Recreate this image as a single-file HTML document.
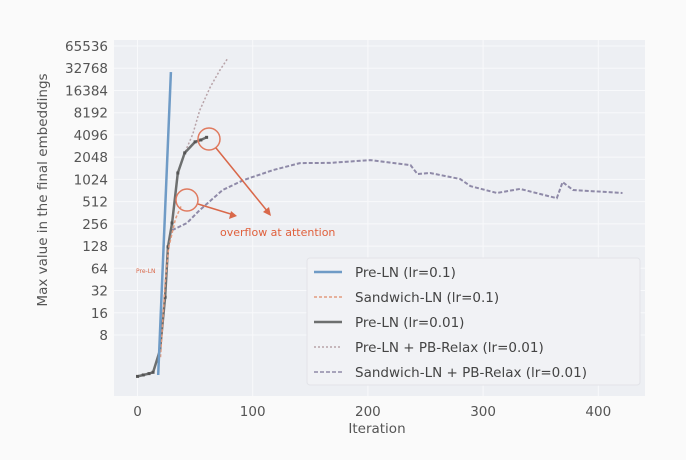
<!DOCTYPE html>
<html><head><meta charset="utf-8"><style>
body{margin:0;background:#fafafa;}
svg{display:block;font-family:"DejaVu Sans","Liberation Sans",sans-serif;}
</style></head><body>
<svg id="chart" width="686" height="460">
<rect x="0" y="0" width="686" height="460" fill="#fafafa"/>
<rect x="114" y="40" width="531" height="356" fill="#edeff3"/>
<g id="grid"></g><g id="ticks"></g><g id="series"></g>
<g>
<circle cx="187" cy="200" r="11" fill="none" stroke="#e07a5f" stroke-width="1.5"/>
<circle cx="209" cy="139" r="11" fill="none" stroke="#e07a5f" stroke-width="1.5"/>
<line x1="198" y1="204" x2="234" y2="215" stroke="#d9684a" stroke-width="1.5"/>
<polygon points="237,216 229,219 231,211" fill="#d9684a"/>
<line x1="216" y1="148" x2="268" y2="212" stroke="#d9684a" stroke-width="1.5"/>
<polygon points="271,216 263,212 269,207" fill="#d9684a"/>
<text x="220" y="236" font-size="11" fill="#e0603c">overflow at attention</text>
<text x="136" y="273" font-size="6" fill="#d9684a">Pre-LN</text>
</g>
<text transform="translate(47,190) rotate(-90)" text-anchor="middle" font-size="13.5" fill="#555">Max value in the final embeddings</text>
<text x="377" y="433" text-anchor="middle" font-size="13.5" fill="#555">Iteration</text>
<g>
<rect x="307" y="258" width="333" height="127" rx="3" fill="#f1f2f5" stroke="#e2e3e8"/>
<g id="legend-items"></g>
</g>
</svg>
<script>
const yTicks=[8,16,32,64,128,256,512,1024,2048,4096,8192,16384,32768,65536];
const xTicks=[0,100,200,300,400];
const preLN01_x=[18,29];
const preLN01_y=[2.3,29000];
const sand01_x=[20,24,27,33,38];
const sand01_y=[4,40,120,300,450];
const preLN001_x=[0,5,10,13.5,19.5,24,26.5,30,35,41,50,55,60];
const preLN001_y=[2.2,2.3,2.4,2.5,5,26,125,263,1250,2340,3300,3500,3800];
const pbRelax_x=[0,13.5,19.5,24,26.5,30,35,41,48,54,63,71,78.5];
const pbRelax_y=[2.2,2.5,5,26,125,263,1250,2340,4200,8800,18000,30000,45000];
const sandPB_x=[30,43,54,74,92,118,141,167,202,237,243,254,280,289,312,332,364,369,378,421];
const sandPB_y=[210,263,393,735,1000,1370,1700,1710,1870,1600,1210,1250,1035,830,670,760,570,940,735,670];
const xs=v=>137.5+v*1.152;
const ys=v=>46+(16-Math.log2(v))*22.23;
const NS="http://www.w3.org/2000/svg";
function mk(tag,parent,attrs){const e=document.createElementNS(NS,tag);for(const k in attrs)e.setAttribute(k,attrs[k]);parent.appendChild(e);return e;}
const grid=document.getElementById('grid'),ticks=document.getElementById('ticks'),series=document.getElementById('series');
yTicks.forEach(t=>{
 const l=mk('line',grid,{x1:114,x2:645,y1:ys(t),y2:ys(t),stroke:'#f8f9fb','stroke-width':1});
 
 
 const tx=mk('text',ticks,{x:108,y:ys(t)+5,'text-anchor':'end','font-size':13.5,fill:'#555'});
 tx.textContent=t;
 
 
});
xTicks.forEach(t=>{
 const l=mk('line',grid,{x1:xs(t),x2:xs(t),y1:40,y2:396,stroke:'#f8f9fb','stroke-width':1});
 
 
 const tx=mk('text',ticks,{x:xs(t),y:416,'text-anchor':'middle','font-size':13.5,fill:'#555'});
 tx.textContent=t;
 
 
});
function pts(xa,ya){return xa.map((x,i)=>xs(x).toFixed(1)+','+ys(ya[i]).toFixed(1)).join(' ');}
const s1=mk('polyline',series,{points:pts(pbRelax_x,pbRelax_y),fill:'none',stroke:'#b8a3a8','stroke-width':1.5,'stroke-dasharray':'2,2'});


const s2=mk('polyline',series,{points:pts(sandPB_x,sandPB_y),fill:'none',stroke:'#8f8aa8','stroke-width':2,'stroke-dasharray':'4,2'});


const s3=mk('polyline',series,{points:pts(preLN001_x,preLN001_y),fill:'none',stroke:'#6d6f6f','stroke-width':2.5});


preLN001_x.forEach((x,i)=>{
 const m=mk('rect',series,{x:xs(x)-1.5,y:ys(preLN001_y[i])-1.5,width:3,height:3,fill:'#555'});
 
 
});
const s4=mk('polyline',series,{points:pts(sand01_x,sand01_y),fill:'none',stroke:'#e39b7e','stroke-width':1.5,'stroke-dasharray':'3,2'});


const s5=mk('polyline',series,{points:pts(preLN01_x,preLN01_y),fill:'none',stroke:'#6f9bc6','stroke-width':2.5});


const legendLabels=['Pre-LN (lr=0.1)','Sandwich-LN (lr=0.1)','Pre-LN (lr=0.01)','Pre-LN + PB-Relax (lr=0.01)','Sandwich-LN + PB-Relax (lr=0.01)'];
const legendStyles=[['#6f9bc6',2.5,''],['#e39b7e',1.5,'3,2'],['#6d6f6f',2.5,''],['#b8a3a8',1.5,'2,2'],['#8f8aa8',1.5,'4,2']];
const lg=document.getElementById('legend-items');
legendLabels.forEach((lab,i)=>{
 const y=272+i*25;
 const g=mk('g',lg,{});
 
 
 const st=legendStyles[i];
 const a={x1:314,x2:342,y1:y,y2:y,stroke:st[0],'stroke-width':st[1]};
 if(st[2])a['stroke-dasharray']=st[2];
 const l=mk('line',g,a);
 
 
 const t=mk('text',g,{x:355,y:y+5,'font-size':13.5,fill:'#444'});
 t.textContent=lab;
 
 
});
</script>
</body></html>
